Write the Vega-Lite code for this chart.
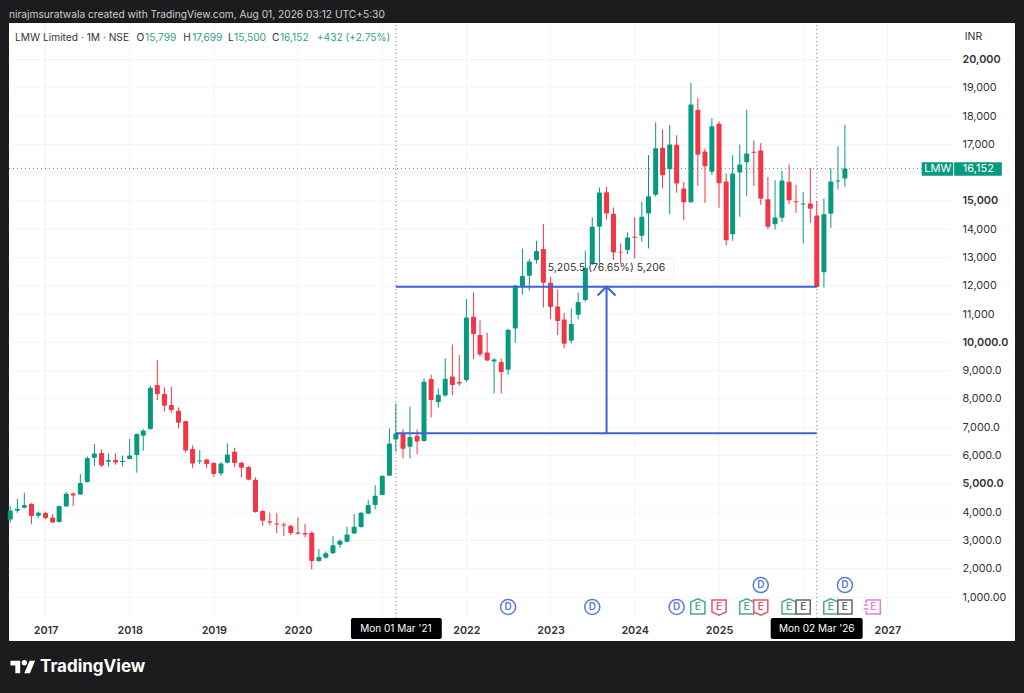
{
"$schema":"https://vega.github.io/schema/vega-lite/v6.json",
"autosize":{"type":"none"},
"padding":{"left":9,"top":23,"right":9,"bottom":52},
"width":1006,"height":618,
"background":"#1c1c1e",
"view":{"fill":"#ffffff","stroke":null},
"config":{"font":"Inter","text":{"font":"Inter"},"axis":{"labelFont":"Inter"}},
"datasets":{
"candles":[
{"d":"2016-08-01","o":3744,"h":4215,"l":3626,"c":4062},{"d":"2016-09-01","o":4050,"h":4463,"l":3980,"c":4121},{"d":"2016-10-01","o":4157,"h":4687,"l":4133,"c":4251},{"d":"2016-11-01","o":4298,"h":4310,"l":3591,"c":3862},{"d":"2016-12-01","o":3874,"h":4027,"l":3803,"c":3980},
{"d":"2017-01-01","o":3968,"h":4015,"l":3756,"c":3791},{"d":"2017-02-01","o":3815,"h":3933,"l":3615,"c":3638},{"d":"2017-03-01","o":3650,"h":4227,"l":3638,"c":4216},{"d":"2017-04-01","o":4204,"h":4710,"l":4192,"c":4651},{"d":"2017-05-01","o":4663,"h":4698,"l":4216,"c":4592},{"d":"2017-06-01","o":4628,"h":5346,"l":4604,"c":5028},{"d":"2017-07-01","o":5064,"h":5971,"l":5040,"c":5912},{"d":"2017-08-01","o":5924,"h":6407,"l":5629,"c":6077},{"d":"2017-09-01","o":6089,"h":6218,"l":5594,"c":5653},{"d":"2017-10-01","o":5782,"h":6077,"l":5606,"c":5841},{"d":"2017-11-01","o":5841,"h":6077,"l":5676,"c":5759},{"d":"2017-12-01","o":5771,"h":5994,"l":5617,"c":5818},
{"d":"2018-01-01","o":5876,"h":6595,"l":5865,"c":6006},{"d":"2018-02-01","o":6018,"h":6784,"l":5393,"c":6760},{"d":"2018-03-01","o":6701,"h":6937,"l":6171,"c":6890},{"d":"2018-04-01","o":6937,"h":8468,"l":6913,"c":8397},{"d":"2018-05-01","o":8492,"h":9375,"l":7962,"c":8174},{"d":"2018-06-01","o":8174,"h":8409,"l":7561,"c":7761},{"d":"2018-07-01","o":7785,"h":8433,"l":7514,"c":7608},{"d":"2018-08-01","o":7585,"h":7702,"l":6960,"c":7161},{"d":"2018-09-01","o":7219,"h":7219,"l":6112,"c":6183},{"d":"2018-10-01","o":6230,"h":6360,"l":5570,"c":5723},{"d":"2018-11-01","o":5794,"h":6195,"l":5700,"c":5829},{"d":"2018-12-01","o":5865,"h":5876,"l":5558,"c":5700},
{"d":"2019-01-01","o":5735,"h":5770,"l":5240,"c":5346},{"d":"2019-02-01","o":5370,"h":5770,"l":5288,"c":5723},{"d":"2019-03-01","o":5747,"h":6430,"l":5723,"c":6041},{"d":"2019-04-01","o":6136,"h":6277,"l":5606,"c":5735},{"d":"2019-05-01","o":5747,"h":5782,"l":5229,"c":5570},{"d":"2019-06-01","o":5594,"h":5629,"l":5123,"c":5146},{"d":"2019-07-01","o":5146,"h":5229,"l":3980,"c":4003},{"d":"2019-08-01","o":4039,"h":4074,"l":3520,"c":3697},{"d":"2019-09-01","o":3674,"h":3980,"l":3532,"c":3638},{"d":"2019-10-01","o":3603,"h":3968,"l":3249,"c":3567},{"d":"2019-11-01","o":3567,"h":3638,"l":3155,"c":3532},{"d":"2019-12-01","o":3520,"h":3544,"l":3190,"c":3261},
{"d":"2020-01-01","o":3285,"h":3815,"l":3202,"c":3238},{"d":"2020-02-01","o":3261,"h":3579,"l":3108,"c":3214},{"d":"2020-03-01","o":3273,"h":3320,"l":1977,"c":2272},{"d":"2020-04-01","o":2272,"h":2696,"l":2248,"c":2413},{"d":"2020-05-01","o":2390,"h":2613,"l":2354,"c":2543},{"d":"2020-06-01","o":2543,"h":3144,"l":2519,"c":2826},{"d":"2020-07-01","o":2849,"h":3037,"l":2743,"c":2990},{"d":"2020-08-01","o":2955,"h":3485,"l":2931,"c":3214},{"d":"2020-09-01","o":3249,"h":3933,"l":3226,"c":3485},{"d":"2020-10-01","o":3473,"h":4003,"l":3450,"c":3980},{"d":"2020-11-01","o":3945,"h":4428,"l":3933,"c":4251},{"d":"2020-12-01","o":4251,"h":4958,"l":4098,"c":4581},
{"d":"2021-01-01","o":4604,"h":5311,"l":4592,"c":5276},{"d":"2021-02-01","o":5288,"h":6960,"l":5276,"c":6430},{"d":"2021-03-01","o":6572,"h":7844,"l":6136,"c":6784},{"d":"2021-04-01","o":6784,"h":6937,"l":5900,"c":6242},{"d":"2021-05-01","o":6313,"h":7727,"l":5900,"c":6655},{"d":"2021-06-01","o":6701,"h":6925,"l":6054,"c":6501},{"d":"2021-07-01","o":6513,"h":8728,"l":6490,"c":8610},{"d":"2021-08-01","o":8704,"h":8858,"l":7350,"c":7962},{"d":"2021-09-01","o":7892,"h":8375,"l":7691,"c":8151},{"d":"2021-10-01","o":8127,"h":9435,"l":8080,"c":8716},{"d":"2021-11-01","o":8798,"h":9929,"l":8139,"c":8492},{"d":"2021-12-01","o":8598,"h":9552,"l":8469,"c":8551},
{"d":"2022-01-01","o":8669,"h":11532,"l":8598,"c":10884},{"d":"2022-02-01","o":10907,"h":11767,"l":9411,"c":10295},{"d":"2022-03-01","o":10259,"h":10778,"l":9494,"c":9576},{"d":"2022-04-01","o":9647,"h":10342,"l":9340,"c":9364},{"d":"2022-05-01","o":9329,"h":9446,"l":8198,"c":9399},{"d":"2022-06-01","o":9305,"h":9435,"l":8198,"c":8952},{"d":"2022-07-01","o":9034,"h":10483,"l":8858,"c":10448},{"d":"2022-08-01","o":10495,"h":12038,"l":9988,"c":12014},{"d":"2022-09-01","o":11991,"h":13322,"l":11696,"c":12344},{"d":"2022-10-01","o":12356,"h":12957,"l":11826,"c":12863},{"d":"2022-11-01","o":12910,"h":13593,"l":12792,"c":13228},{"d":"2022-12-01","o":13299,"h":14182,"l":11237,"c":12109},
{"d":"2023-01-01","o":12109,"h":12321,"l":10825,"c":11249},{"d":"2023-02-01","o":11272,"h":11873,"l":10259,"c":10754},{"d":"2023-03-01","o":10813,"h":11049,"l":9788,"c":9953},{"d":"2023-04-01","o":10059,"h":11202,"l":9965,"c":10648},{"d":"2023-05-01","o":10978,"h":11755,"l":10813,"c":11426},{"d":"2023-06-01","o":11496,"h":13240,"l":11437,"c":12639},{"d":"2023-07-01","o":12769,"h":14418,"l":12733,"c":14088},{"d":"2023-08-01","o":14088,"h":15478,"l":12792,"c":15301},{"d":"2023-09-01","o":15313,"h":15501,"l":14347,"c":14559},{"d":"2023-10-01","o":14547,"h":14771,"l":12910,"c":13181},{"d":"2023-11-01","o":13205,"h":13499,"l":12792,"c":13181},{"d":"2023-12-01","o":13263,"h":13888,"l":13122,"c":13711},
{"d":"2024-01-01","o":13734,"h":14418,"l":12969,"c":13699},{"d":"2024-02-01","o":13770,"h":14971,"l":13558,"c":14441},{"d":"2024-03-01","o":14559,"h":16620,"l":13322,"c":15171},{"d":"2024-04-01","o":15218,"h":17775,"l":15147,"c":16867},{"d":"2024-05-01","o":16879,"h":17527,"l":15442,"c":15913},{"d":"2024-06-01","o":16125,"h":17680,"l":14535,"c":16997},{"d":"2024-07-01","o":16985,"h":17327,"l":15289,"c":15619},{"d":"2024-08-01","o":15442,"h":15678,"l":14323,"c":14959},{"d":"2024-09-01","o":14959,"h":19176,"l":14935,"c":18411},{"d":"2024-10-01","o":18222,"h":18634,"l":15525,"c":16632},{"d":"2024-11-01","o":16750,"h":16856,"l":14935,"c":16231},{"d":"2024-12-01","o":16031,"h":17928,"l":15913,"c":17645},
{"d":"2025-01-01","o":17727,"h":17810,"l":14759,"c":15630},{"d":"2025-02-01","o":15689,"h":15972,"l":13428,"c":13616},{"d":"2025-03-01","o":13828,"h":16620,"l":13592,"c":15972},{"d":"2025-04-01","o":16007,"h":16997,"l":14441,"c":16290},{"d":"2025-05-01","o":16372,"h":18222,"l":15183,"c":16679},{"d":"2025-06-01","o":16738,"h":17138,"l":15525,"c":16703},{"d":"2025-07-01","o":16785,"h":17044,"l":14865,"c":15077},{"d":"2025-08-01","o":15065,"h":15854,"l":14005,"c":14087},{"d":"2025-09-01","o":14182,"h":15737,"l":13993,"c":14417},{"d":"2025-10-01","o":14406,"h":16066,"l":14264,"c":15725},{"d":"2025-11-01","o":15678,"h":16290,"l":14888,"c":15030},{"d":"2025-12-01","o":14994,"h":15572,"l":14582,"c":14959},
{"d":"2026-01-01","o":14877,"h":15312,"l":13498,"c":14912},{"d":"2026-02-01","o":14912,"h":16161,"l":14229,"c":14723},{"d":"2026-03-01","o":14488,"h":14994,"l":11943,"c":11955},{"d":"2026-04-01","o":12485,"h":15088,"l":11943,"c":14535},{"d":"2026-05-01","o":14547,"h":16161,"l":14052,"c":15689},{"d":"2026-06-01","o":15689,"h":16938,"l":15407,"c":15725},{"d":"2026-07-01","o":15799,"h":17699,"l":15500,"c":16152}
],
"gridH":[{"d":"2016-07-26","d2":"2027-10-08","v":1000},{"d":"2016-07-26","d2":"2027-10-08","v":2000},{"d":"2016-07-26","d2":"2027-10-08","v":3000},{"d":"2016-07-26","d2":"2027-10-08","v":4000},{"d":"2016-07-26","d2":"2027-10-08","v":5000},{"d":"2016-07-26","d2":"2027-10-08","v":6000},{"d":"2016-07-26","d2":"2027-10-08","v":7000},{"d":"2016-07-26","d2":"2027-10-08","v":8000},{"d":"2016-07-26","d2":"2027-10-08","v":9000},{"d":"2016-07-26","d2":"2027-10-08","v":10000},{"d":"2016-07-26","d2":"2027-10-08","v":11000},{"d":"2016-07-26","d2":"2027-10-08","v":12000},{"d":"2016-07-26","d2":"2027-10-08","v":13000},{"d":"2016-07-26","d2":"2027-10-08","v":14000},{"d":"2016-07-26","d2":"2027-10-08","v":15000},{"d":"2016-07-26","d2":"2027-10-08","v":16000},{"d":"2016-07-26","d2":"2027-10-08","v":17000},{"d":"2016-07-26","d2":"2027-10-08","v":18000},{"d":"2016-07-26","d2":"2027-10-08","v":19000},{"d":"2016-07-26","d2":"2027-10-08","v":20000}],
"gridV":[{"d":"2017-01-01","v":258,"v2":21292},{"d":"2018-01-01","v":258,"v2":21292},{"d":"2019-01-01","v":258,"v2":21292},{"d":"2020-01-01","v":258,"v2":21292},{"d":"2021-01-01","v":258,"v2":21292},{"d":"2022-01-01","v":258,"v2":21292},{"d":"2023-01-01","v":258,"v2":21292},{"d":"2024-01-01","v":258,"v2":21292},{"d":"2025-01-01","v":258,"v2":21292},{"d":"2026-01-01","v":258,"v2":21292},{"d":"2027-01-01","v":258,"v2":21292}],
"events":[{"d":"2022-07-01","v":647,"kind":"dividend","t":"D"},{"d":"2023-07-01","v":647,"kind":"dividend","t":"D"},{"d":"2024-07-01","v":647,"kind":"dividend","t":"D"},{"d":"2024-10-01","v":647,"kind":"beat","t":"E"},{"d":"2025-01-01","v":647,"kind":"miss","t":"E"},{"d":"2025-05-01","v":647,"kind":"beat","t":"E"},{"d":"2025-07-01","v":647,"kind":"miss","t":"E"},{"d":"2025-07-01","v":1424,"kind":"dividend","t":"D"},{"d":"2025-11-01","v":647,"kind":"beat","t":"E"},{"d":"2026-01-01","v":647,"kind":"flat","t":"E"},{"d":"2026-05-01","v":647,"kind":"beat","t":"E"},{"d":"2026-07-01","v":647,"kind":"flat","t":"E"},{"d":"2026-07-01","v":1424,"kind":"dividend","t":"D"},{"d":"2026-11-01","v":647,"kind":"next","t":"E"}]
},
"encoding":{
"x":{"field":"d","type":"temporal","title":null,"scale":{"type":"utc","domain":["2016-07-26T12:00:00Z","2028-07-08T00:00:00Z"],"nice":false,"padding":0},
"axis":{"orient":"bottom","offset":-23,"domain":false,"ticks":false,"grid":false,"labelPadding":6,"labelFontSize":10.8,"labelFontWeight":600,"labelColor":"#333333","labelFlush":false,"labelOverlap":false,"format":"%Y","formatType":"utc","values":["2017-01-01","2018-01-01","2019-01-01","2020-01-01","2022-01-01","2023-01-01","2024-01-01","2025-01-01","2027-01-01"]}},
"y":{"field":"v","type":"quantitative","title":null,"scale":{"domain":[-555,21292],"nice":false,"zero":false},
"axis":{"orient":"right","offset":-53,"domain":false,"ticks":false,"grid":false,"labelPadding":0,"labelAlign":"left","labelFontSize":10.8,"labelColor":"#333333","labelOverlap":false,"values":[1000,2000,3000,4000,5000,6000,7000,8000,9000,10000,11000,12000,13000,14000,15000,17000,18000,19000,20000],"labelExpr":"datum.value==1000?'1,000.00':datum.value<=10000?format(datum.value,',.1f'):format(datum.value,',')","labelFontWeight":{"condition":{"test":"datum.value%5000===0","value":600},"value":"normal"}}}
},
"layer":[
{"data":{"name":"gridH"},"mark":{"type":"rule","color":"#f4f4f5","strokeWidth":1},"encoding":{"x2":{"field":"d2"}}},
{"data":{"name":"gridV"},"mark":{"type":"rule","color":"#f4f4f5","strokeWidth":1},"encoding":{"y2":{"field":"v2"}}},
{"data":{"values":[{"d":"2021-03-01","v":258,"v2":21292},{"d":"2026-03-01","v":258,"v2":21292}]},"mark":{"type":"rule","color":"#777777","strokeWidth":1,"strokeDash":[1,3]},"encoding":{"y2":{"field":"v2"}}},
{"data":{"values":[{"d":"2016-07-26T12:00:00Z","d2":"2027-05-30","v":16152}]},"mark":{"type":"rule","color":"#777777","strokeWidth":1,"strokeDash":[1,3]},"encoding":{"x2":{"field":"d2"}}},
{"data":{"values":[{"d":"2022-11-25","d2":"2024-06-18","v":12945,"v2":12238}]},"mark":{"type":"rect","fill":"#ffffff","stroke":"#f0f0f0","cornerRadius":4},"encoding":{"x2":{"field":"d2"},"y2":{"field":"v2"}}},
{"data":{"name":"candles"},"mark":{"type":"rule","strokeWidth":1},"encoding":{"y":{"field":"l","type":"quantitative"},"y2":{"field":"h"},"color":{"condition":{"test":"datum.c>=datum.o","value":"#089981"},"value":"#f23645"}}},
{"data":{"name":"candles"},"mark":{"type":"bar","size":5,"cornerRadius":1},"encoding":{"y":{"field":"o","type":"quantitative"},"y2":{"field":"c"},"color":{"condition":{"test":"datum.c>=datum.o","value":"#089981"},"value":"#f23645"}}},
{"data":{"values":[{"d":"2021-03-01","d2":"2026-03-01","v":11968},{"d":"2021-03-01","d2":"2026-03-01","v":6785}]},"mark":{"type":"rule","color":"#3c63d2","strokeWidth":2},"encoding":{"x2":{"field":"d2"}}},
{"data":{"values":[{"d":"2023-09-01","v":6785,"v2":11968}]},"mark":{"type":"rule","color":"#3c63d2","strokeWidth":2},"encoding":{"y2":{"field":"v2"}}},
{"data":{"values":[{"d":"2023-07-24","v":11660},{"d":"2023-09-01","v":11968},{"d":"2023-10-10","v":11660}]},"mark":{"type":"line","color":"#3c63d2","strokeWidth":2}},
{"data":{"values":[{"d":"2023-09-01","v":12638,"t":"5,205.5 (76.65%) 5,206"}]},"mark":{"type":"text","fontSize":10.5,"color":"#333333","align":"center","baseline":"middle"},"encoding":{"text":{"field":"t"}}},
{"data":{"name":"events"},"mark":{"type":"point","filled":false,"fill":"#ffffff","fillOpacity":1,"opacity":1,"strokeWidth":1.5},"encoding":{
"shape":{"field":"kind","legend":null,"scale":{"domain":["dividend","beat","miss","flat","next"],"range":["circle","M-1,-0.7L0,-1.15L1,-0.7L1,1L-1,1Z","M-1,-1L1,-1L1,0.7L0,1.15L-1,0.7Z","M-1,-1L1,-1L1,1L-1,1Z","M-1,-1L1,-1L1,1L-1,1L-1,0.55M-1,-0.55L-1,-1M-1.35,-0.3L-0.75,-0.3M-1.35,0.3L-0.75,0.3"]}},
"stroke":{"field":"kind","legend":null,"scale":{"domain":["dividend","beat","miss","flat","next"],"range":["#5b7bd5","#4aa88e","#e0566a","#666666","#e27ae2"]}},
"size":{"field":"t","legend":null,"scale":{"domain":["D","E"],"range":[227,200]}}}},
{"data":{"name":"events"},"mark":{"type":"text","fontSize":10,"fontWeight":600,"align":"center","baseline":"middle"},"encoding":{"text":{"field":"t"},
"color":{"field":"kind","legend":null,"scale":{"domain":["dividend","beat","miss","flat","next"],"range":["#5b7bd5","#4aa88e","#e0566a","#666666","#e27ae2"]}}}},
{"data":{"values":[{"d":"2020-08-18","d2":"2021-09-16","v":258,"v2":-485},{"d":"2025-08-13","d2":"2026-09-16","v":258,"v2":-485}]},"mark":{"type":"rect","fill":"#000000","cornerRadius":2},"encoding":{"x2":{"field":"d2"},"y2":{"field":"v2"}}},
{"data":{"values":[{"d":"2021-03-01","v":-130,"t":"Mon 01 Mar '21"},{"d":"2026-03-01","v":-130,"t":"Mon 02 Mar '26"}]},"mark":{"type":"text","fontSize":10,"color":"#ffffff","align":"center","baseline":"middle"},"encoding":{"text":{"field":"t"}}},
{"data":{"values":[{"d":"2027-05-30","d2":"2027-10-14","v":16370,"v2":15890},{"d":"2027-10-18","d2":"2028-05-12","v":16370,"v2":15890}]},"mark":{"type":"rect","fill":"#089981","cornerRadius":1},"encoding":{"x2":{"field":"d2"},"y2":{"field":"v2"}}},
{"data":{"values":[{"d":"2027-08-08","v":16130,"t":"LMW"},{"d":"2028-01-31","v":16130,"t":"16,152"}]},"mark":{"type":"text","fontSize":11,"color":"#ffffff","align":"center","baseline":"middle"},"encoding":{"text":{"field":"t"}}},
{"data":{"values":[{"d":"2027-12-03","v":20790,"t":"INR"}]},"mark":{"type":"text","fontSize":10.5,"color":"#333333","align":"left","baseline":"middle"},"encoding":{"text":{"field":"t"}}},
{"data":{"values":[{"d":"2016-07-26T12:00:00Z","v":21568,"t":"nirajmsuratwala created with TradingView.com, Aug 01, 2026 03:12 UTC+5:30"}]},"mark":{"type":"text","fontSize":10.2,"color":"#cfcfcf","align":"left","baseline":"middle"},"encoding":{"text":{"field":"t"}}},
{"data":{"values":[{"d":"2016-08-22","v":20755,"t":"LMW Limited · 1M · NSE"},{"d":"2018-01-31","v":20755,"t":"O"},{"d":"2018-08-21","v":20755,"t":"H"},{"d":"2019-03-04","v":20755,"t":"L"},{"d":"2019-09-10","v":20755,"t":"C"}]},"mark":{"type":"text","fontSize":10.2,"color":"#333333","align":"left","baseline":"middle"},"encoding":{"text":{"field":"t"}}},
{"data":{"values":[{"d":"2018-03-09","v":20755,"t":"15,799"},{"d":"2018-09-29","v":20755,"t":"17,699"},{"d":"2019-03-30","v":20755,"t":"15,500"},{"d":"2019-10-15","v":20755,"t":"16,152"},{"d":"2020-03-23","v":20755,"t":"+432 (+2.75%)"}]},"mark":{"type":"text","fontSize":10.2,"color":"#2b9f86","align":"left","baseline":"middle"},"encoding":{"text":{"field":"t"}}},
{"data":{"values":[{"d":"2016-09-25","v":-1474,"brand":"logo"}]},"mark":{"type":"point","filled":true,"fill":"#ffffff","fillOpacity":1,"opacity":1,"stroke":null,"size":625,"shape":"M-0.22,0.5L-0.61,0.5L-0.61,-0.11L-1,-0.11L-1,-0.5L-0.22,-0.5ZM0.56,0.5L0.11,0.5L0.53,-0.5L0.97,-0.5ZM-0.11,-0.33A0.22,0.22 0 1,0 0.33,-0.33A0.22,0.22 0 1,0 -0.11,-0.33Z"}},
{"data":{"values":[{"d":"2016-12-08","v":-1474,"t":"TradingView"}]},"mark":{"type":"text","fontSize":17,"fontWeight":"bold","color":"#ffffff","align":"left","baseline":"middle"},"encoding":{"text":{"field":"t"}}}
]
}
